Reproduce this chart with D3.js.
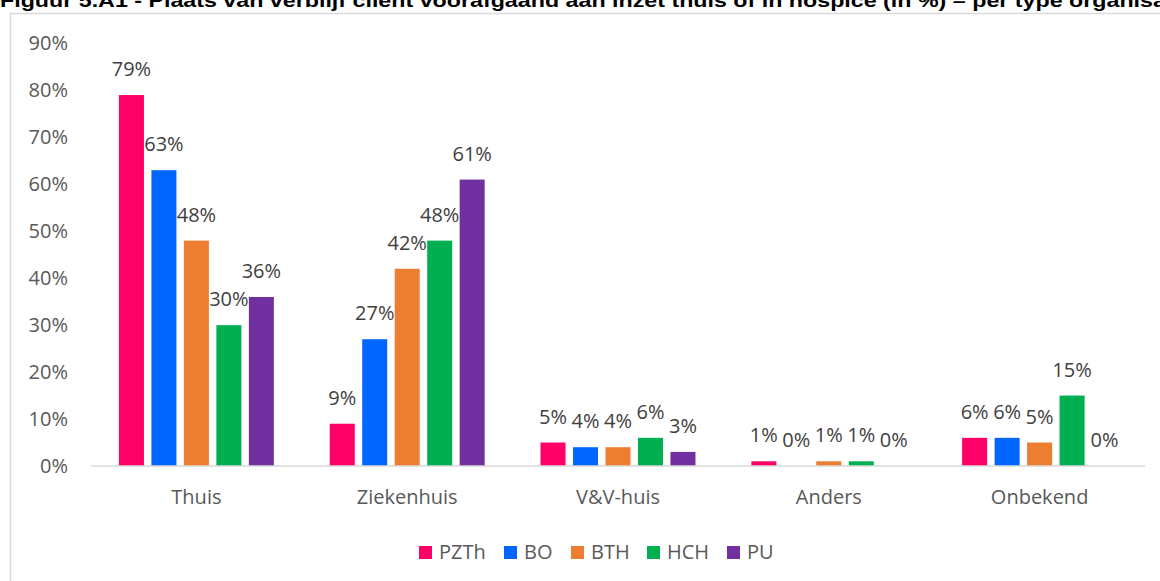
<html>
<head>
<meta charset="utf-8">
<script src="https://d3js.org/d3.v7.min.js"></script>
<style>
  body { margin: 0; background: #fff; }
  text { font-family: "Open Sans", sans-serif; }
</style>
</head>
<body>
<div id="chart"></div>
<script>
// data
var categories = ["Thuis", "Ziekenhuis", "V&V-huis", "Anders", "Onbekend"];
var series = ["PZTh", "BO", "BTH", "HCH", "PU"];
var PZTh = [79, 9, 5, 1, 6];
var BO   = [63, 27, 4, 0, 6];
var BTH  = [48, 42, 4, 1, 5];
var HCH  = [30, 48, 6, 1, 15];
var PU   = [36, 61, 3, 0, 0];
var yTicks = [0, 10, 20, 30, 40, 50, 60, 70, 80, 90];
var title = "Figuur 5.A1 - Plaats van verblijf cliënt voorafgaand aan inzet thuis of in hospice (in %) – per type organisatie";

var values = { PZTh: PZTh, BO: BO, BTH: BTH, HCH: HCH, PU: PU };
var colors = { PZTh: "#FF0066", BO: "#0066FF", BTH: "#ED7D31", HCH: "#00B050", PU: "#7030A0" };

var W = 1160, H = 581;
var svg = d3.select("#chart").append("svg")
  .attr("width", W).attr("height", H);

// title (cut at top like the source)
svg.append("text")
  .attr("x", 0).attr("y", 7)
  .attr("textLength", 1193)
  .attr("lengthAdjust", "spacingAndGlyphs")
  .style("font-family", "'Liberation Sans Narrow', 'Liberation Sans', sans-serif")
  .style("font-weight", "bold")
  .style("font-size", "19px")
  .attr("fill", "#000")
  .text(title);

// frame
svg.append("rect")
  .attr("x", 10.5).attr("y", 13.5)
  .attr("width", W + 20).attr("height", H + 20)
  .attr("fill", "none")
  .attr("stroke", "#d9d9d9")
  .attr("stroke-width", 1.5);

var plotL = 91, plotR = 1145, plotT = 43.4, plotB = 466;
var fs = "20px";

var x0 = d3.scaleBand()
  .domain(categories)
  .range([plotL, plotR])
  .paddingInner(0.265)
  .paddingOuter(0.1325);

var x1 = d3.scaleBand()
  .domain(series)
  .range([0, x0.bandwidth()])
  .paddingInner(0.23)
  .paddingOuter(0);

var y = d3.scaleLinear()
  .domain([0, 90])
  .range([plotB, plotT]);

// y axis labels
var yAxis = svg.append("g")
  .attr("transform", "translate(68,0)")
  .call(d3.axisLeft(y).tickValues(yTicks).tickSize(0).tickPadding(0)
    .tickFormat(function(d) { return d + "%"; }));
yAxis.select(".domain").remove();
yAxis.selectAll("text")
  .style("font-family", "'Open Sans', sans-serif")
  .style("font-size", fs)
  .attr("fill", "#595959");

// bars
var groups = svg.selectAll(".grp")
  .data(categories)
  .enter().append("g")
    .attr("transform", function(d) { return "translate(" + x0(d) + ",0)"; });

function rows(c, i) {
  return series.map(function(s) { return { s: s, v: values[s][i] }; });
}

groups.selectAll("rect")
  .data(rows)
  .enter().append("rect")
    .attr("x", function(d) { return x1(d.s); })
    .attr("y", function(d) { return y(d.v); })
    .attr("width", x1.bandwidth())
    .attr("height", function(d) { return plotB - y(d.v); })
    .attr("fill", function(d) { return colors[d.s]; });

groups.selectAll(".lbl")
  .data(rows)
  .enter().append("text")
    .attr("x", function(d) { return x1(d.s) + x1.bandwidth() / 2; })
    .attr("y", function(d) { return y(d.v) - 19; })
    .attr("text-anchor", "middle")
    .style("font-size", fs)
    .attr("fill", "#404040")
    .text(function(d) { return d.v + "%"; });

// x axis
var xAxis = svg.append("g")
  .attr("transform", "translate(0," + plotB + ")")
  .call(d3.axisBottom(x0).tickSize(0).tickPadding(0).tickSizeOuter(0));
xAxis.select(".domain")
  .attr("stroke", "#d9d9d9")
  .attr("stroke-width", 1.5)
  .attr("d", "M" + plotL + ",0H" + plotR);
xAxis.selectAll("text")
  .attr("dy", null)
  .attr("y", 38)
  .style("font-family", "'Open Sans', sans-serif")
  .style("font-size", fs)
  .attr("fill", "#595959");

// legend
var legendX = [419, 504, 571, 647, 727];
var legend = svg.selectAll(".leg")
  .data(series)
  .enter().append("g")
    .attr("transform", function(d, i) { return "translate(" + legendX[i] + ",546)"; });
legend.append("rect")
  .attr("width", 13).attr("height", 13)
  .attr("fill", function(d) { return colors[d]; });
legend.append("text")
  .attr("x", 20).attr("y", 13)
  .style("font-size", fs)
  .attr("fill", "#595959")
  .text(function(d) { return d; });
</script>
</body>
</html>
